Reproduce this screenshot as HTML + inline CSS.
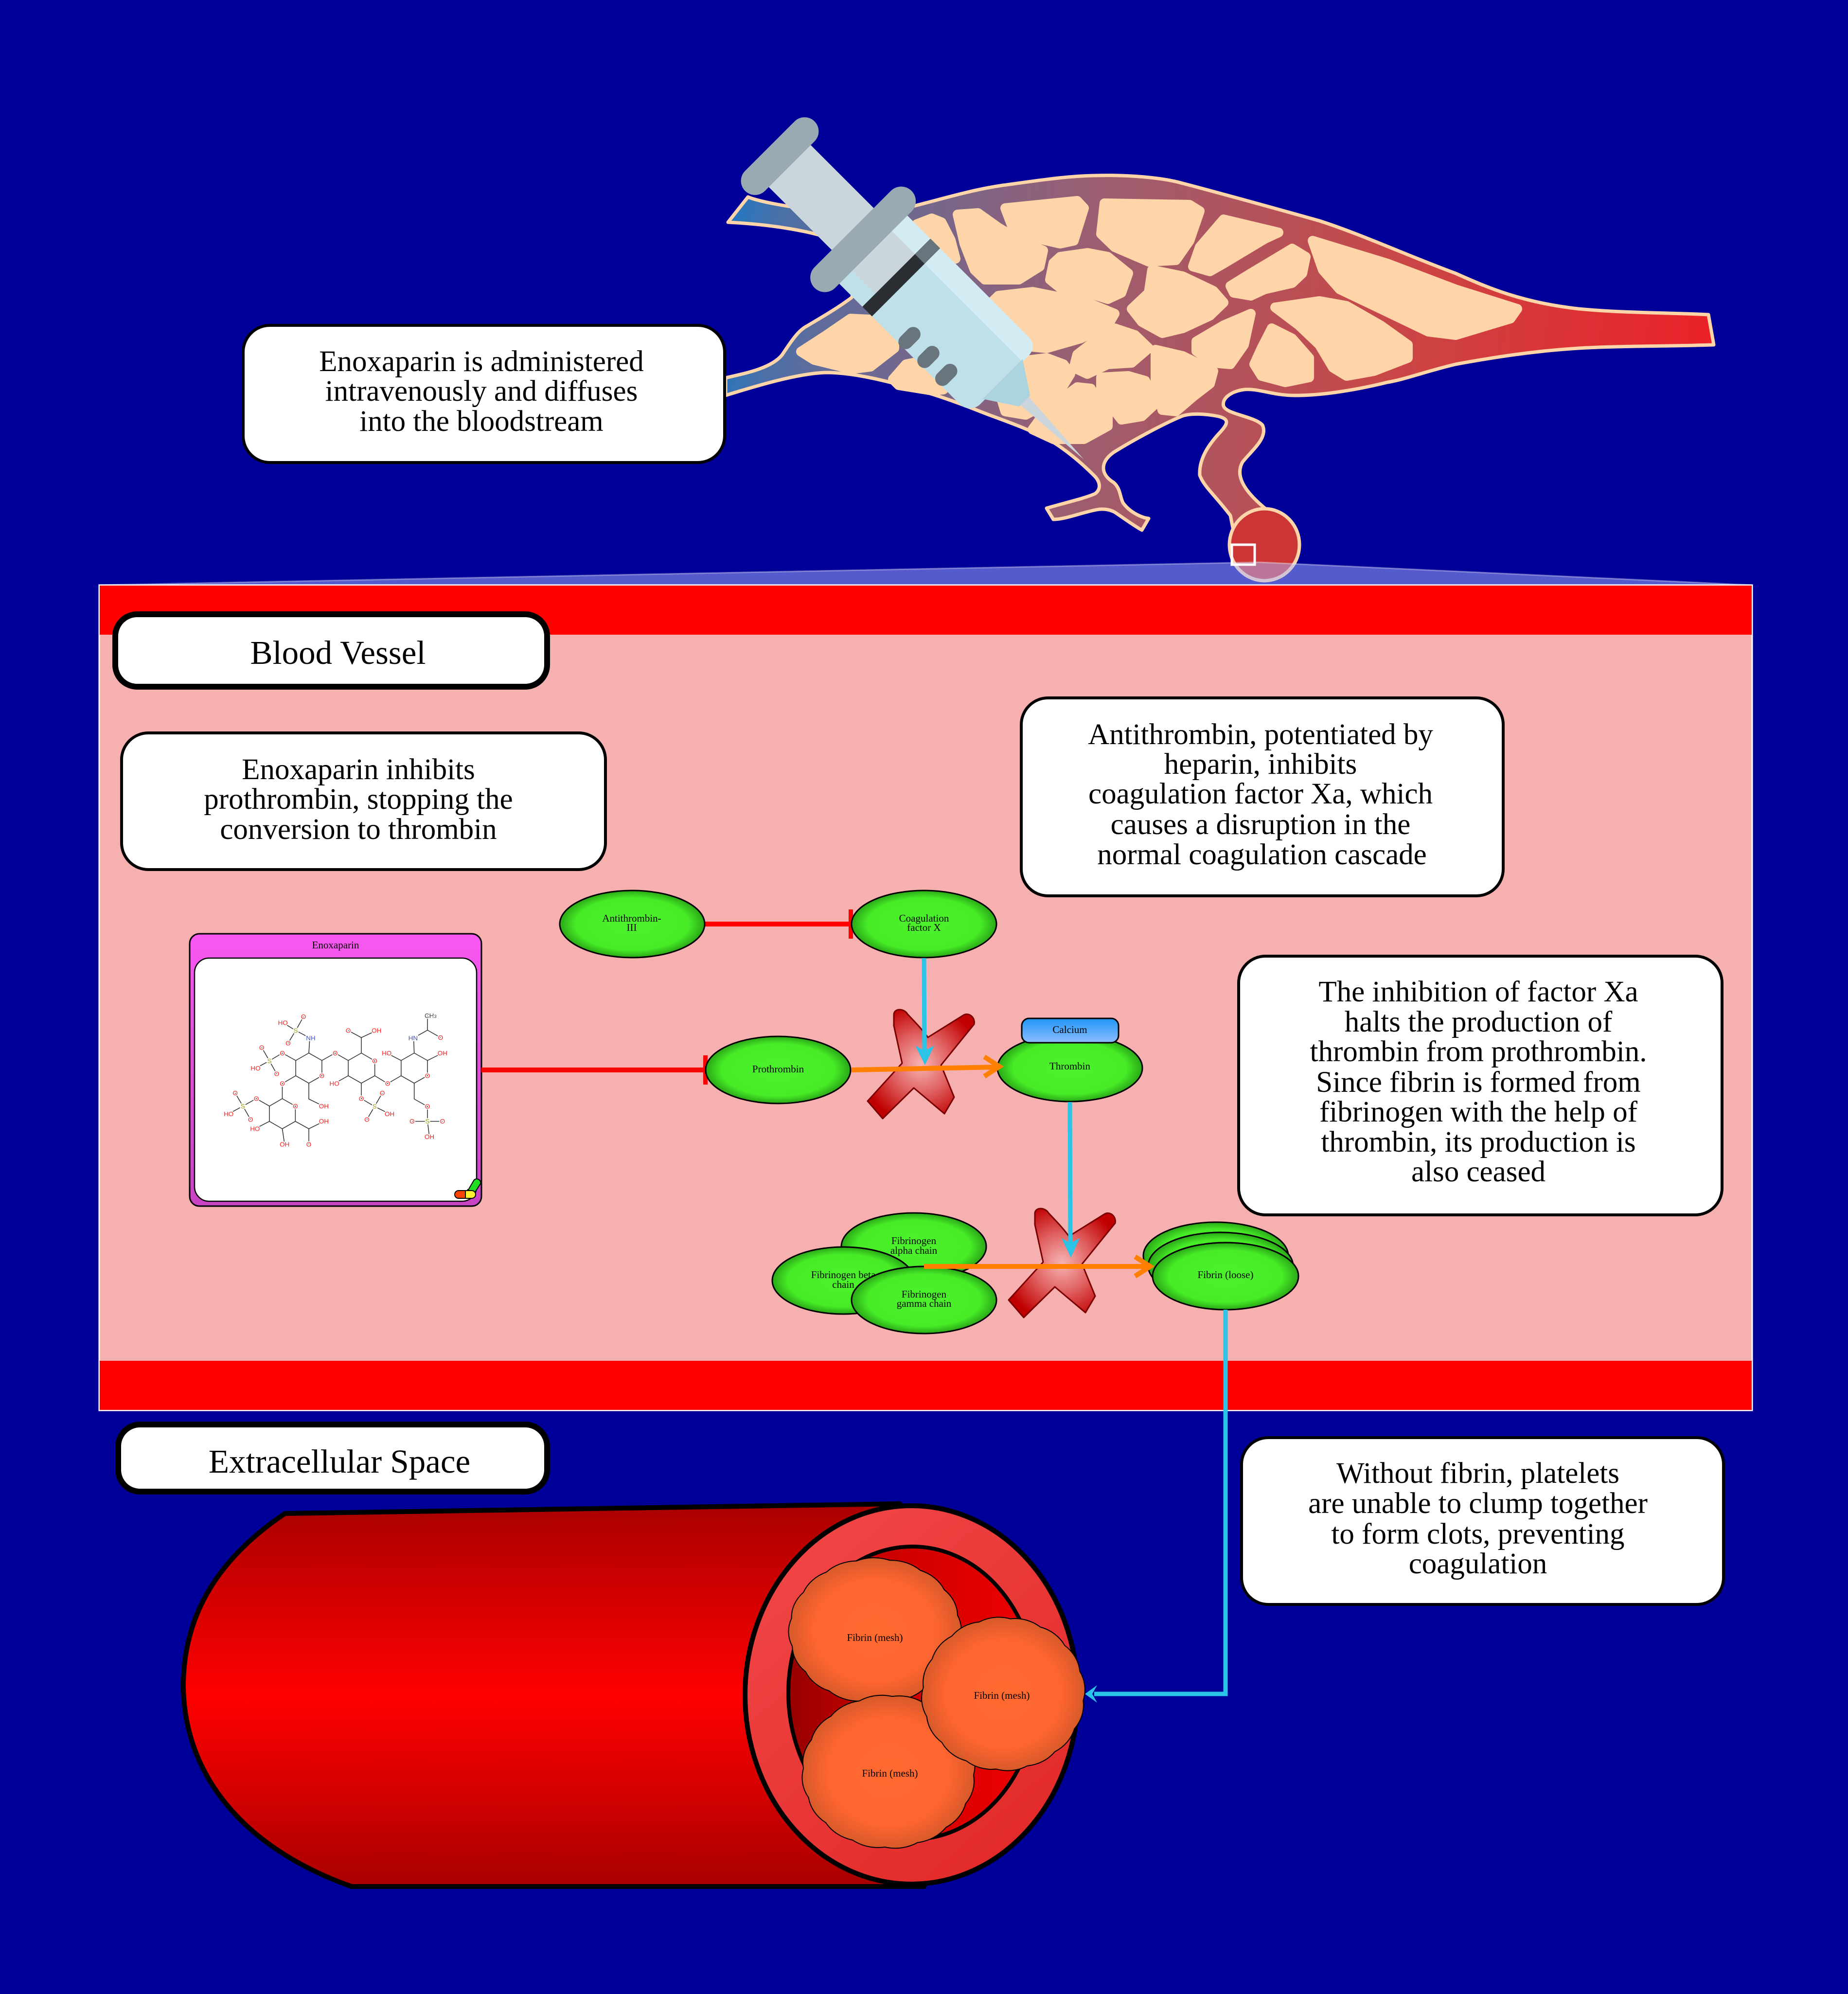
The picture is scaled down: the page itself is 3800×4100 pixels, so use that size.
<!DOCTYPE html>
<html><head><meta charset="utf-8">
<style>
html,body{margin:0;padding:0;background:#000099;}
svg{display:block;}
text{font-family:"Liberation Serif","Times New Roman",serif;}
.mol text{font-family:"Liberation Sans","DejaVu Sans",sans-serif;font-size:34px;text-anchor:middle;paint-order:stroke;stroke:#fff;stroke-width:10px;}
</style></head>
<body>
<svg width="3800" height="4100" viewBox="0 0 3800 4100" xmlns="http://www.w3.org/2000/svg">
<defs>
  <linearGradient id="vg" gradientUnits="userSpaceOnUse" x1="1500" y1="450" x2="3520" y2="680">
    <stop offset="0" stop-color="#2277C2"/>
    <stop offset="0.05" stop-color="#4A70A8"/>
    <stop offset="0.1" stop-color="#5E6C9C"/>
    <stop offset="0.37" stop-color="#9C5E70"/>
    <stop offset="0.67" stop-color="#C84848"/>
    <stop offset="1" stop-color="#EA2228"/>
  </linearGradient>
  <radialGradient id="ng" cx="50%" cy="50%" r="50%">
    <stop offset="0" stop-color="#4BF22B"/>
    <stop offset="0.78" stop-color="#47EC27"/>
    <stop offset="1" stop-color="#2AA717"/>
  </radialGradient>
  <radialGradient id="xg" cx="50%" cy="50%" r="55%">
    <stop offset="0" stop-color="#F7B4B4"/>
    <stop offset="0.5" stop-color="#E06060"/>
    <stop offset="1" stop-color="#C00000"/>
  </radialGradient>
  <linearGradient id="cag" x1="0" y1="0" x2="0" y2="1">
    <stop offset="0" stop-color="#1E95F5"/>
    <stop offset="1" stop-color="#8DBDFF"/>
  </linearGradient>
  <linearGradient id="eng" x1="0" y1="0" x2="0" y2="1">
    <stop offset="0" stop-color="#F858F0"/>
    <stop offset="1" stop-color="#C844C4"/>
  </linearGradient>
  <linearGradient id="bodyg" gradientUnits="userSpaceOnUse" x1="0" y1="3095" x2="0" y2="3880">
    <stop offset="0" stop-color="#AA0000"/>
    <stop offset="0.5" stop-color="#FF0000"/>
    <stop offset="1" stop-color="#A80000"/>
  </linearGradient>
  <linearGradient id="ringg" gradientUnits="userSpaceOnUse" x1="1560" y1="3120" x2="2200" y2="3860">
    <stop offset="0" stop-color="#F24848"/>
    <stop offset="1" stop-color="#E02626"/>
  </linearGradient>
  <linearGradient id="lumg" gradientUnits="userSpaceOnUse" x1="1621" y1="0" x2="2131" y2="0">
    <stop offset="0" stop-color="#960000"/>
    <stop offset="0.35" stop-color="#C80000"/>
    <stop offset="1" stop-color="#F00000"/>
  </linearGradient>
  <radialGradient id="mg" cx="50%" cy="50%" r="50%">
    <stop offset="0" stop-color="#FF6A30"/>
    <stop offset="0.7" stop-color="#FF6530"/>
    <stop offset="1" stop-color="#D85A2A"/>
  </radialGradient>
</defs>

<rect width="3800" height="4100" fill="#000099"/>

<!-- ===== Vessel network ===== -->
<path d="M1492,777 C1530,768 1585,758 1608,730 C1625,705 1640,680 1660,670 C1690,652 1720,635 1751,612 L1790,520 L1700,488 C1670,478 1600,462 1497,457 L1538,405 C1560,414 1610,424 1680,432 L1780,440 C1820,432 1850,428 1882,423 C1940,408 2000,390 2062,381 C2130,372 2190,362 2250,361 C2320,359 2390,365 2432,377 C2520,400 2620,428 2713,454 C2800,482 2900,528 2993,562 C3060,592 3130,622 3246,635 C3340,644 3440,643 3513,647 L3524,709 C3440,712 3330,711 3246,716 C3150,722 3070,735 2993,749 C2930,764 2890,780 2853,786 C2780,804 2710,814 2657,813 C2615,812 2585,798 2558,801 C2530,805 2512,820 2516,835 C2522,852 2580,856 2596,874 C2608,900 2575,925 2555,950 C2538,980 2560,1015 2620,1060 L2640,1110 L2540,1110 L2530,1060 C2500,1020 2475,1000 2467,977 C2465,940 2490,910 2505,893 C2525,872 2530,862 2505,856 C2475,850 2448,850 2432,855 C2395,870 2330,905 2290,930 C2262,950 2262,975 2290,992 C2305,1005 2303,1025 2310,1035 C2325,1055 2350,1065 2362,1066 L2348,1090 C2330,1080 2310,1065 2295,1055 C2285,1048 2270,1045 2255,1048 C2220,1055 2190,1068 2166,1068 L2152,1045 C2185,1035 2230,1025 2252,1015 C2265,1005 2262,990 2250,978 C2230,958 2200,930 2159,905 C2100,875 2050,860 2013,845 C1970,828 1920,810 1868,796 C1810,780 1750,766 1698,766 C1640,768 1560,792 1492,813 Z" fill="url(#vg)" stroke="#FDD5A8" stroke-width="7" stroke-linejoin="round"/>

<g fill="#FDD5A8" stroke="#FDD5A8" stroke-width="20" stroke-linejoin="round">
  <polygon points="2067,428 2215,413 2229,428 2208,495 2180,501 2109,485 2081,465"/>
  <polygon points="2271,418 2446,421 2467,434 2446,495 2418,535 2362,538 2292,508 2264,481"/>
  <polygon points="2516,451 2629,478 2601,491 2516,542 2488,558 2453,548 2467,508"/>
  <polygon points="2699,495 2853,542 2993,595 3120,635 3106,655 2993,689 2937,682 2839,635 2755,595 2720,555"/>
  <polygon points="2657,511 2685,528 2678,562 2657,582 2600,595 2572,608 2537,602 2530,588 2572,562 2629,528"/>
  <polygon points="1969,441 2011,438 2053,468 2109,501 2145,515 2138,548 2095,575 2025,575 2004,555 1983,501"/>
  <polygon points="2180,528 2236,520 2278,528 2320,562 2306,602 2278,615 2236,602 2180,592 2159,575 2166,541"/>
  <polygon points="2369,555 2432,568 2495,598 2516,622 2488,649 2432,675 2390,685 2348,662 2327,635 2362,602"/>
  <polygon points="2053,608 2123,600 2236,622 2292,645 2278,669 2222,696 2152,716 2081,709 2039,682 2025,635"/>
  <polygon points="2622,632 2713,619 2769,629 2839,669 2895,709 2895,736 2825,763 2769,773 2741,756 2713,709 2671,669"/>
  <polygon points="2572,645 2558,709 2530,749 2495,746 2460,722 2460,702 2516,669"/>
  <polygon points="2615,675 2657,696 2692,736 2692,776 2643,786 2594,773 2579,749 2594,716"/>
  <polygon points="2292,675 2334,689 2362,716 2327,746 2278,749 2236,769 2208,756 2215,729 2250,702"/>
  <polygon points="2376,719 2432,732 2495,763 2488,789 2453,816 2418,846 2390,843 2376,789"/>
  <polygon points="2264,776 2320,773 2355,783 2376,830 2348,856 2306,863 2285,836 2264,803"/>
  <polygon points="2102,742 2152,736 2187,749 2201,769 2180,803 2152,830 2109,853 2067,846 2060,823 2088,789"/>
  <polygon points="2215,796 2243,799 2278,856 2278,876 2229,903 2166,903 2123,883 2152,843"/>
  <polygon points="1647,723 1698,690 1749,655 1790,657 1839,697 1839,716 1790,754 1751,759 1674,740"/>
  <polygon points="1836,780 1863,749 1907,740 1940,801 1916,803 1848,792"/>
  <polygon points="1885,461 1916,449 1936,457 1955,494 1965,532 1945,537 1900,500"/>
</g>

<ellipse cx="2600" cy="1120" rx="72" ry="74" fill="#CC3535" stroke="#FDD5A8" stroke-width="7"/>

<!-- ===== Syringe ===== -->
<g transform="translate(1603.5 321) rotate(45)">
  <rect x="0" y="-61" width="260" height="122" fill="#CBD6DC"/>
  <rect x="242" y="-99" width="410" height="198" rx="30" fill="#BFE0E8"/>
  <path d="M242,-99 L622,-99 Q652,-99 652,-69 L652,-54 L242,-54 Z" fill="#D3EBF2"/>
  <rect x="242" y="-54" width="97" height="115" fill="#CBD6DC"/>
  <rect x="339" y="-99" width="28" height="198" fill="#2B2F33"/>
  <rect x="339" y="-99" width="28" height="45" fill="#68757D"/>
  <rect x="438" y="50" width="30" height="52" rx="15" fill="#68757D"/>
  <rect x="493" y="50" width="30" height="52" rx="15" fill="#68757D"/>
  <rect x="545" y="50" width="30" height="52" rx="15" fill="#68757D"/>
  <polygon points="648,-58 712,-16 712,16 648,58" fill="#ABD3E0"/>
  <polygon points="712,-12 883,-1 712,12" fill="#CBD6DC"/>
  <rect x="212" y="-141" width="60" height="282" rx="30" fill="#9AAAB3"/>
  <rect x="-29" y="-101" width="58" height="202" rx="29" fill="#9AAAB3"/>
</g>

<!-- magnifier overlay -->
<polygon points="204,1203 2590,1156 3603,1203" fill="rgba(170,180,255,0.5)" stroke="rgba(255,255,255,0.35)" stroke-width="3"/>
<rect x="2533" y="1120" width="47" height="41" fill="none" stroke="#FFFFFF" stroke-width="5"/>

<!-- top text box -->
<rect x="500" y="669" width="990" height="282" rx="55" fill="#FFFFFF" stroke="#000" stroke-width="6"/>
<g font-size="61" text-anchor="middle" fill="#000">
  <text x="990" y="763">Enoxaparin is administered</text>
  <text x="990" y="824">intravenously and diffuses</text>
  <text x="990" y="886">into the bloodstream</text>
</g>

<!-- ===== Blood vessel panel ===== -->
<rect x="204" y="1203" width="3399" height="1697" fill="#F7B0B0" stroke="#FFFFFF" stroke-width="3"/>
<rect x="205" y="1204" width="3397" height="101" fill="#FF0000"/>
<rect x="205" y="2798" width="3397" height="101" fill="#FF0000"/>

<rect x="237" y="1263" width="888" height="149" rx="45" fill="#FFFFFF" stroke="#000" stroke-width="12"/>
<text x="695" y="1365" font-size="69" text-anchor="middle">Blood Vessel</text>

<rect x="250" y="1507" width="995" height="281" rx="55" fill="#FFFFFF" stroke="#000" stroke-width="6"/>
<g font-size="61" text-anchor="middle">
  <text x="737" y="1602">Enoxaparin inhibits</text>
  <text x="737" y="1663">prothrombin, stopping the</text>
  <text x="737" y="1725">conversion to thrombin</text>
</g>

<rect x="2100" y="1435" width="991" height="407" rx="55" fill="#FFFFFF" stroke="#000" stroke-width="6"/>
<g font-size="61" text-anchor="middle">
  <text x="2592" y="1530">Antithrombin, potentiated by</text>
  <text x="2592" y="1591">heparin, inhibits</text>
  <text x="2592" y="1652">coagulation factor Xa, which</text>
  <text x="2592" y="1715">causes a disruption in the</text>
  <text x="2595" y="1777">normal coagulation cascade</text>
</g>

<rect x="2547" y="1966" width="994" height="532" rx="55" fill="#FFFFFF" stroke="#000" stroke-width="6"/>
<g font-size="61" text-anchor="middle">
  <text x="3040" y="2059">The inhibition of factor Xa</text>
  <text x="3040" y="2121">halts the production of</text>
  <text x="3040" y="2182">thrombin from prothrombin.</text>
  <text x="3040" y="2245">Since fibrin is formed from</text>
  <text x="3040" y="2306">fibrinogen with the help of</text>
  <text x="3040" y="2368">thrombin, its production is</text>
  <text x="3040" y="2429">also ceased</text>
</g>

<!-- Enoxaparin node -->
<rect x="390" y="1920" width="600" height="560" rx="20" fill="url(#eng)" stroke="#000" stroke-width="3"/>
<text x="690" y="1950" font-size="21" text-anchor="middle">Enoxaparin</text>
<rect x="400" y="1970" width="580" height="500" rx="30" fill="#FFFFFF" stroke="#000" stroke-width="2.5"/>

<g class="mol" transform="translate(380 1900) scale(0.3954 0.3827)">
  <g fill="none" stroke="#333" stroke-width="4">
    <path d="M645,693 L713,733 L713,815 L645,855 L577,815 L577,733 Z"/>
    <path d="M850,733 L918,693 L988,735 L988,815 L918,855 L850,815 Z"/>
    <path d="M1125,733 L1193,693 L1262,733 L1262,815 L1193,855 L1125,815 Z"/>
    <path d="M507,938 L575,978 L575,1060 L507,1100 L440,1060 L440,978 Z"/>
    <path d="M645,693 L650,612 M650,612 L577,572 M577,572 L510,530 M577,572 L617,498 M577,572 L537,640"/>
    <path d="M577,733 L507,693 L440,735 M440,735 L400,663 M440,735 L368,775 M440,735 L478,805"/>
    <path d="M577,815 L507,857 L507,938 M645,855 L645,940 L720,978 M713,733 L782,693 L850,733"/>
    <path d="M918,693 L918,610 M918,610 L850,572 M918,610 L997,572 M850,815 L778,857"/>
    <path d="M918,855 L918,938 L987,980 M987,980 L1027,908 M987,980 L947,1050 M987,980 L1065,1020"/>
    <path d="M988,815 L1055,857 L1125,815 M1125,733 L1050,693"/>
    <path d="M1193,693 L1190,612 L1262,570 L1262,492 M1262,570 L1330,610 M1262,733 L1340,693"/>
    <path d="M1193,855 L1193,940 L1262,980 L1262,1060 M1262,1060 L1182,1060 M1262,1060 L1340,1060 M1262,1060 L1272,1143"/>
    <path d="M440,978 L372,938 L302,978 M302,978 L262,908 M302,978 L228,1020 M302,978 L342,1050"/>
    <path d="M440,1060 L365,1100 M507,1100 L519,1183 M575,1060 L645,1100 L723,1060 M645,1100 L645,1183"/>
  </g>
  <g fill="#FF1A1A">
    <text x="713" y="827">O</text><text x="617" y="510">O</text><text x="537" y="652">O</text>
    <text x="507" y="705">O</text><text x="400" y="675">O</text><text x="478" y="817">O</text>
    <text x="507" y="869">O</text><text x="782" y="705">O</text><text x="988" y="747">O</text>
    <text x="850" y="584">O</text><text x="918" y="950">O</text><text x="1027" y="920">O</text>
    <text x="947" y="1062">O</text><text x="1055" y="869">O</text><text x="1262" y="827">O</text>
    <text x="1330" y="622">O</text><text x="1262" y="992">O</text><text x="1182" y="1072">O</text>
    <text x="1340" y="1072">O</text><text x="575" y="990">O</text><text x="372" y="950">O</text>
    <text x="262" y="920">O</text><text x="342" y="1062">O</text><text x="645" y="1195">O</text>
    <text x="510" y="542">HO</text><text x="368" y="787">HO</text><text x="778" y="869">HO</text>
    <text x="1050" y="705">HO</text><text x="228" y="1032">HO</text><text x="365" y="1112">HO</text>
    <text x="723" y="990">OH</text><text x="997" y="584">OH</text><text x="1065" y="1032">OH</text>
    <text x="1340" y="705">OH</text><text x="1272" y="1155">OH</text><text x="519" y="1195">OH</text>
    <text x="723" y="1072">OH</text>
  </g>
  <g fill="#4050C8">
    <text x="655" y="624">NH</text><text x="1187" y="624">HN</text>
  </g>
  <g fill="#9A9A10">
    <text x="577" y="584">S</text><text x="440" y="747">S</text><text x="987" y="992">S</text>
    <text x="1262" y="1072">S</text><text x="302" y="990">S</text>
  </g>
  <text x="1278" y="504" fill="#333">CH<tspan font-size="24">3</tspan></text>
</g>

<!-- pill icon -->
<g stroke="#000" stroke-width="2">
  <path d="M962,2448 L975,2426 A8,8 0 0 1 988,2434 L975,2454 Z" fill="#22DD22"/>
  <path d="M955,2456 L962,2446 L975,2454 L968,2462 Z" fill="#3399FF"/>
  <path d="M943,2448 L957,2448 L957,2464 L943,2464 A8,8 0 0 1 943,2448 Z" fill="#FF4400"/>
  <path d="M957,2448 L970,2448 A8,8 0 0 1 970,2464 L957,2464 Z" fill="#FFF030"/>
</g>

<!-- inhibition lines -->
<g fill="#FF0000">
  <rect x="1448" y="1895" width="298" height="10"/>
  <rect x="1745" y="1870" width="9" height="60"/>
  <rect x="990" y="2195" width="458" height="10"/>
  <rect x="1446" y="2170" width="9" height="60"/>
</g>

<!-- X marks -->
<path d="M1838,2085 C1840,2072 1860,2074 1866,2085 C1880,2100 1895,2115 1908,2133 L1980,2088 C1992,2080 2006,2092 2003,2106 L1935,2190 L1962,2256 L1942,2290 L1879,2237 L1815,2300 L1784,2264 L1855,2186 L1838,2109 Z" fill="url(#xg)" stroke="#7A0000" stroke-width="3" stroke-linejoin="round"/>
<path transform="translate(290 409)" d="M1838,2085 C1840,2072 1860,2074 1866,2085 C1880,2100 1895,2115 1908,2133 L1980,2088 C1992,2080 2006,2092 2003,2106 L1935,2190 L1962,2256 L1942,2290 L1879,2237 L1815,2300 L1784,2264 L1855,2186 L1838,2109 Z" fill="url(#xg)" stroke="#7A0000" stroke-width="3" stroke-linejoin="round"/>

<!-- nodes -->
<g stroke="#000" stroke-width="3" fill="url(#ng)">
  <ellipse cx="1300" cy="1900" rx="149" ry="69"/>
  <ellipse cx="1900" cy="1900" rx="149" ry="69"/>
  <ellipse cx="1600" cy="2200" rx="149" ry="69"/>
  <ellipse cx="2200" cy="2196" rx="149" ry="69"/>
  <ellipse cx="1879" cy="2563" rx="149" ry="69"/>
  <ellipse cx="1734" cy="2633" rx="146" ry="69"/>
  <ellipse cx="2500" cy="2582" rx="149" ry="69"/>
  <ellipse cx="2510" cy="2603" rx="149" ry="69"/>
  <ellipse cx="2520" cy="2624" rx="150" ry="69"/>
</g>
<rect x="2101" y="2094" width="199" height="50" rx="15" fill="url(#cag)" stroke="#000" stroke-width="3"/>

<g font-size="21" text-anchor="middle">
  <text x="1299" y="1895">Antithrombin-</text>
  <text x="1299" y="1914">III</text>
  <text x="1900" y="1895">Coagulation</text>
  <text x="1900" y="1914">factor X</text>
  <text x="1600" y="2205">Prothrombin</text>
  <text x="2200" y="2199">Thrombin</text>
  <text x="2200" y="2124">Calcium</text>
  <text x="1879" y="2558">Fibrinogen</text>
  <text x="1879" y="2578">alpha chain</text>
  <text x="1734" y="2628">Fibrinogen beta</text>
  <text x="1734" y="2648">chain</text>
  <text x="2520" y="2628">Fibrin (loose)</text>
</g>
<ellipse cx="1900" cy="2673" rx="149" ry="69" fill="url(#ng)" stroke="#000" stroke-width="3"/>
<g font-size="21" text-anchor="middle">
  <text x="1900" y="2668">Fibrinogen</text>
  <text x="1900" y="2687">gamma chain</text>
</g>

<!-- orange arrows -->
<g stroke="#FF8000" stroke-width="10" fill="none">
  <line x1="1751" y1="2200" x2="2050" y2="2194"/>
  <polyline points="2024,2173 2055,2193 2024,2213"/>
  <line x1="1900" y1="2604" x2="2362" y2="2604"/>
  <polyline points="2334,2584 2365,2604 2334,2624"/>
</g>

<!-- blue arrows -->
<g stroke="#2BC3E6" stroke-width="9" fill="none">
  <line x1="1900" y1="1970" x2="1901" y2="2165"/>
  <line x1="2200" y1="2266" x2="2201" y2="2560"/>
  <polyline points="2520,2693 2520,3483 2250,3483"/>
</g>
<g fill="#2BC3E6">
  <polygon points="1882,2150 1901,2160 1921,2150 1902,2190"/>
  <polygon points="2183,2546 2201,2556 2220,2546 2202,2586"/>
  <polygon points="2256,3465 2246,3483 2256,3501 2231,3483"/>
</g>

<!-- Extracellular space -->
<rect x="243" y="2929" width="882" height="138" rx="45" fill="#FFFFFF" stroke="#000" stroke-width="12"/>
<text x="698" y="3028" font-size="69" text-anchor="middle">Extracellular Space</text>

<rect x="2553" y="2956" width="991" height="343" rx="55" fill="#FFFFFF" stroke="#000" stroke-width="6"/>
<g font-size="61" text-anchor="middle">
  <text x="3039" y="3049">Without fibrin, platelets</text>
  <text x="3039" y="3111">are unable to clump together</text>
  <text x="3039" y="3174">to form clots, preventing</text>
  <text x="3039" y="3235">coagulation</text>
</g>

<!-- ===== bottom vessel ===== -->
<path d="M586,3112 L1850,3092 L1900,3879 L723,3879 C500,3800 380,3650 377,3470 C376,3330 440,3210 586,3112 Z" fill="url(#bodyg)" stroke="#000" stroke-width="10" stroke-linejoin="round"/>
<ellipse cx="1874" cy="3485" rx="342" ry="389" fill="url(#ringg)" stroke="#000" stroke-width="10"/>
<ellipse cx="1876" cy="3481" rx="255" ry="301" fill="url(#lumg)" stroke="#000" stroke-width="8"/>

<g fill="url(#mg)" stroke="#000" stroke-width="2">
  <path vector-effect="non-scaling-stroke" transform="translate(1799 3353) scale(174 147) rotate(10)" d="M1,0 A0.5,0.5 0 0 1 0.924,0.383 A0.5,0.5 0 0 1 0.707,0.707 A0.5,0.5 0 0 1 0.383,0.924 A0.5,0.5 0 0 1 0,1 A0.5,0.5 0 0 1 -0.383,0.924 A0.5,0.5 0 0 1 -0.707,0.707 A0.5,0.5 0 0 1 -0.924,0.383 A0.5,0.5 0 0 1 -1,0 A0.5,0.5 0 0 1 -0.924,-0.383 A0.5,0.5 0 0 1 -0.707,-0.707 A0.5,0.5 0 0 1 -0.383,-0.924 A0.5,0.5 0 0 1 0,-1 A0.5,0.5 0 0 1 0.383,-0.924 A0.5,0.5 0 0 1 0.707,-0.707 A0.5,0.5 0 0 1 0.924,-0.383 A0.5,0.5 0 0 1 1,0 Z"/>
  <path vector-effect="non-scaling-stroke" transform="translate(1827 3643) scale(175 155) rotate(25)" d="M1,0 A0.5,0.5 0 0 1 0.924,0.383 A0.5,0.5 0 0 1 0.707,0.707 A0.5,0.5 0 0 1 0.383,0.924 A0.5,0.5 0 0 1 0,1 A0.5,0.5 0 0 1 -0.383,0.924 A0.5,0.5 0 0 1 -0.707,0.707 A0.5,0.5 0 0 1 -0.924,0.383 A0.5,0.5 0 0 1 -1,0 A0.5,0.5 0 0 1 -0.924,-0.383 A0.5,0.5 0 0 1 -0.707,-0.707 A0.5,0.5 0 0 1 -0.383,-0.924 A0.5,0.5 0 0 1 0,-1 A0.5,0.5 0 0 1 0.383,-0.924 A0.5,0.5 0 0 1 0.707,-0.707 A0.5,0.5 0 0 1 0.924,-0.383 A0.5,0.5 0 0 1 1,0 Z"/>
  <path vector-effect="non-scaling-stroke" transform="translate(2063 3483) scale(165 155) rotate(5)" d="M1,0 A0.5,0.5 0 0 1 0.924,0.383 A0.5,0.5 0 0 1 0.707,0.707 A0.5,0.5 0 0 1 0.383,0.924 A0.5,0.5 0 0 1 0,1 A0.5,0.5 0 0 1 -0.383,0.924 A0.5,0.5 0 0 1 -0.707,0.707 A0.5,0.5 0 0 1 -0.924,0.383 A0.5,0.5 0 0 1 -1,0 A0.5,0.5 0 0 1 -0.924,-0.383 A0.5,0.5 0 0 1 -0.707,-0.707 A0.5,0.5 0 0 1 -0.383,-0.924 A0.5,0.5 0 0 1 0,-1 A0.5,0.5 0 0 1 0.383,-0.924 A0.5,0.5 0 0 1 0.707,-0.707 A0.5,0.5 0 0 1 0.924,-0.383 A0.5,0.5 0 0 1 1,0 Z"/>
</g>
<g font-size="21" text-anchor="middle">
  <text x="1799" y="3374">Fibrin (mesh)</text>
  <text x="2060" y="3493">Fibrin (mesh)</text>
  <text x="1830" y="3653">Fibrin (mesh)</text>
</g>

</svg>
</body></html>
